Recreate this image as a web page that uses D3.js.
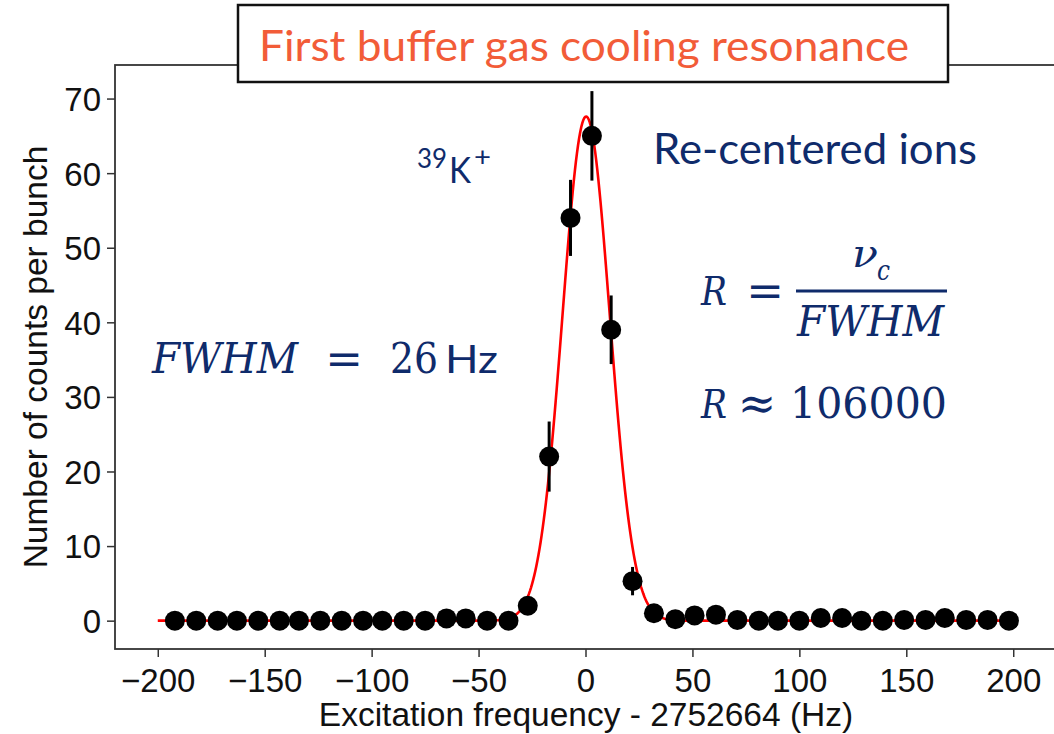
<!DOCTYPE html>
<html>
<head>
<meta charset="utf-8">
<script src="https://cdn.jsdelivr.net/npm/d3@7/dist/d3.min.js"></script>
<style>
  html, body { margin: 0; padding: 0; background: #fff; }
  svg { display: block; }
</style>
</head>
<body>
<svg id="chart" width="1054" height="734"></svg>
<script>
// ---- data ----
const freq = [-192,-182,-172,-163,-153,-143,-134,-124,-114,-104,-95,-85,-75,-65,-56,-46,-36,-27,-17,-7,3,12,22,32,42,51,61,71,81,90,100,110,120,129,139,149,159,168,178,188,198];
const counts = [0,0,0,0,0,0,0,0,0,0,0,0,0,0.3,0.3,0,0,2.0,22,54,65,39,5.3,1.0,0.2,0.7,0.8,0.1,0,0,0,0.35,0.35,0,0,0.1,0.1,0.35,0.1,0.1,0];
const errs = [0,0,0,0,0,0,0,0,0,0,0,0,0,0,0,0,0,0.8,4.7,5.1,6.0,4.6,1.9,0.6,0,0,0,0,0,0,0,0,0,0,0,0,0,0,0,0,0];
// Gaussian fit parameters: amplitude, centre (Hz), FWHM (Hz), baseline
const fitParams = [67.6, 0.3, 26, 0];
const fitRange = [-200, 200];
const xTicks = [-200,-150,-100,-50,0,50,100,150,200];
const yTicks = [0,10,20,30,40,50,60,70];

const svg = d3.select("#chart");
const L = 115, R = 1056, T = 65, B = 649;
const x = d3.scaleLinear().domain([-220, 220]).range([L, R]);
const y = d3.scaleLinear().domain([-3.8, 74.5]).range([B, T]);

const axisColor = "#333";
const tickFont = "'Liberation Sans', Arial, sans-serif";

// axes
const gx = svg.append("g").attr("transform", `translate(0,${B})`)
  .call(d3.axisBottom(x).tickValues(xTicks).tickSize(8).tickPadding(5).tickSizeOuter(0));
const gy = svg.append("g").attr("transform", `translate(${L},0)`)
  .call(d3.axisLeft(y).tickValues(yTicks).tickSize(8).tickPadding(6).tickSizeOuter(0));
[gx, gy].forEach(g => {
  g.select(".domain").remove();
  g.selectAll(".tick line").attr("stroke", axisColor).attr("stroke-width", 1.5);
  g.selectAll(".tick text").attr("fill", "#111").style("font-family", tickFont).style("font-size", "33px");
});
gx.selectAll(".tick text").attr("dy", "0.92em");
gy.selectAll(".tick text").attr("dy", "0.36em");

// spines
svg.append("rect").attr("x", L).attr("y", T).attr("width", R - L).attr("height", B - T)
  .attr("fill", "none").attr("stroke", axisColor).attr("stroke-width", 1.8);

// fit curve
const gauss = f => fitParams[3] + fitParams[0] * Math.exp(-4 * Math.LN2 * Math.pow((f - fitParams[1]) / fitParams[2], 2));
const fitX = d3.range(fitRange[0], fitRange[1] + 0.25, 0.5);
svg.append("path")
  .datum(fitX)
  .attr("fill", "none").attr("stroke", "#ff0000").attr("stroke-width", 2.6)
  .attr("d", d3.line().x(f => x(f)).y(f => y(gauss(f))));

// data
const pts = freq.map((f, i) => ({ f, c: counts[i], e: errs[i] }));
svg.append("g").selectAll("line").data(pts.filter(d => d.e > 0)).join("line")
  .attr("x1", d => x(d.f)).attr("x2", d => x(d.f))
  .attr("y1", d => y(d.c - d.e)).attr("y2", d => y(d.c + d.e))
  .attr("stroke", "#000").attr("stroke-width", 3);
svg.append("g").selectAll("circle").data(pts).join("circle")
  .attr("cx", d => x(d.f)).attr("cy", d => y(d.c)).attr("r", 10).attr("fill", "#000");

// axis labels
svg.append("text").attr("x", 586).attr("y", 726).attr("text-anchor", "middle")
  .style("font-family", tickFont).style("font-size", "33.5px").attr("fill", "#111")
  .text("Excitation frequency - 2752664 (Hz)");
svg.append("text").attr("transform", "translate(47,357) rotate(-90)").attr("text-anchor", "middle")
  .style("font-family", tickFont).style("font-size", "33.5px").attr("fill", "#111")
  .text("Number of counts per bunch");

// title box
svg.append("rect").attr("x", 238).attr("y", 5).attr("width", 710).attr("height", 77)
  .attr("fill", "#fff").attr("stroke", "#111").attr("stroke-width", 2.5);
svg.append("text").attr("x", 259).attr("y", 61)
  .style("font-family", "Lato, 'Open Sans', sans-serif").style("font-size", "42px")
  .attr("fill", "#f25c38").attr("textLength", 650).attr("lengthAdjust", "spacingAndGlyphs")
  .text("First buffer gas cooling resonance");

// annotations
const navy = "#0f2b6b";
const sans = "Lato, 'Open Sans', sans-serif";
const serif = "'DejaVu Serif', serif";
function t(xp, yp, str, opts) {
  const el = svg.append("text").attr("x", xp).attr("y", yp).attr("fill", navy)
    .style("font-family", opts.family || serif).style("font-size", (opts.size || 40) + "px")
    .style("font-style", opts.italic ? "italic" : "normal")
    .attr("text-anchor", opts.anchor || "start");
  if (opts.len) el.attr("textLength", opts.len).attr("lengthAdjust", "spacingAndGlyphs");
  el.text(str);
  return el;
}
t(653, 164, "Re-centered ions", { family: sans, size: 42, len: 324 });
t(417, 168, "39", { family: sans, size: 27, len: 30 });
t(449, 183, "K", { family: sans, size: 37, len: 22 });
t(474, 166, "+", { family: sans, size: 26, len: 17 });

t(152, 373, "FWHM", { italic: true, size: 42, len: 146 });
t(344, 374, "=", { size: 45, anchor: "middle" });
t(390, 373, "26", { size: 43, len: 48 });
t(445, 373, "Hz", { family: sans, size: 39, len: 53 });

t(701, 305, "R", { italic: true, size: 39, len: 26 });
t(765, 306, "=", { size: 45, anchor: "middle" });
svg.append("line").attr("x1", 796).attr("x2", 947).attr("y1", 291).attr("y2", 291)
  .attr("stroke", navy).attr("stroke-width", 2.8);
t(852, 267, "ν", { italic: true, size: 40, len: 26 });
t(877, 280, "c", { italic: true, size: 28, len: 13 });
t(797, 336, "FWHM", { italic: true, size: 42, len: 147 });

t(701, 418, "R", { italic: true, size: 39, len: 26 });
t(757, 419, "≈", { size: 46, anchor: "middle" });
t(790, 418, "106000", { size: 43, len: 157 });
</script>
</body>
</html>
